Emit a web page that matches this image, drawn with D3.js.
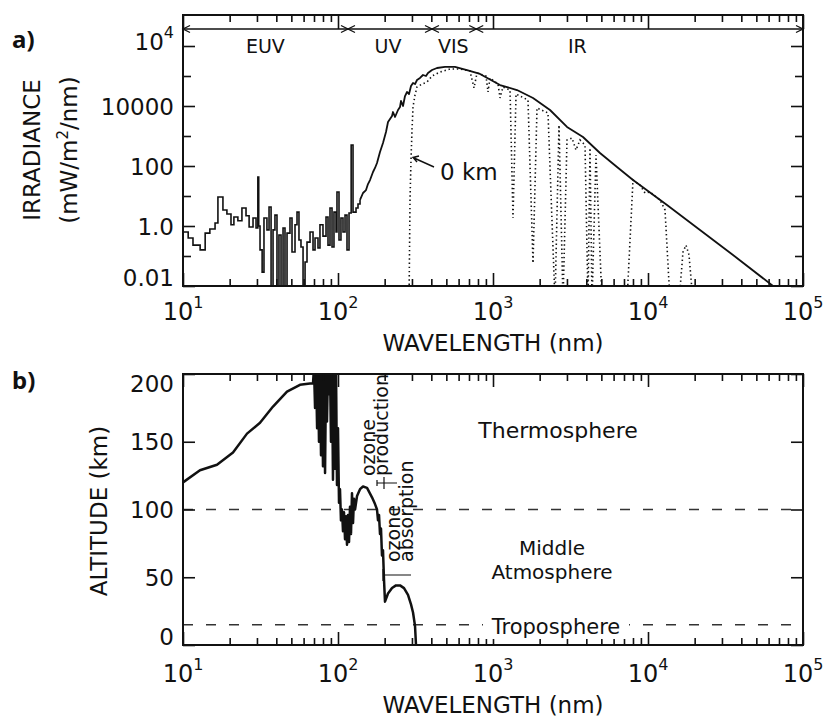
<!DOCTYPE html>
<html>
<head>
<meta charset="utf-8">
<script src="https://cdn.jsdelivr.net/npm/d3@7"></script>
<style>
  body { margin: 0; background: #fff; }
  svg text { font-family: "DejaVu Sans", sans-serif; fill: #111; }
</style>
</head>
<body>
<svg id="chart" width="826" height="720"></svg>
<script>
// axis ticks
const wavelengthTicks = [10, 100, 1000, 10000, 100000];
const wavelengthExponents = ['1', '2', '3', '4', '5'];
const irradianceTicks = [0.01, 1, 100, 1e4, 1e6];
const irradianceLabels = ['0.01', '1.0', '100', '10000', '10^4'];
const irradianceMinorTicks = [0.1, 10, 1000, 1e5];
const altitudeTicks = [0, 50, 100, 150, 200];

// spectral bands along the top of panel a
const bandNames = ['EUV', 'UV', 'VIS', 'IR'];
const bandEdges = [10, 116, 404, 780, 100000];
const bandLabelAt = [34, 210, 555, 3500];

// layer boundaries in panel b (km)
const layerBoundaries = [100, 15];

// [wavelength nm, irradiance] -- EUV histogram, drawn as steps
const euvSpectrum = [
  [10.0, 0.63], [10.8, 0.40], [11.6, 0.23], [12.9, 0.16], [13.9, 0.58], [14.9, 0.79],
  [16.1, 1.26], [16.8, 9.3], [18.1, 3.4], [19.2, 2.5], [20.4, 1.1], [21.3, 2.0],
  [22.6, 1.5], [24.0, 4.0], [25.5, 2.2], [26.7, 0.93], [28.3, 1.85], [29.6, 0.86],
  [30.4, 43], [30.8, 1.0], [31.4, 0.16], [32.4, 0.029], [33.3, 1.85], [34.8, 0.74],
  [35.9, 4.3], [37.0, 0.003], [38.1, 0.74], [39.2, 2.3], [40.4, 0.003], [41.6, 0.50],
  [42.9, 0.003], [44.2, 0.86], [45.5, 0.003], [46.9, 0.58], [49.0, 1.85], [50.5, 0.136],
  [52.8, 1.1], [54.4, 2.9], [56.0, 0.34], [57.7, 0.20], [59.5, 0.003], [61.3, 0.063],
  [63.1, 0.29], [66.0, 0.63], [69.0, 0.16], [71.1, 0.40], [74.3, 0.185], [76.5, 1.1],
  [80.0, 0.46], [83.7, 2.0], [86.2, 0.23], [88.8, 4.0], [91.5, 0.20], [94.2, 2.9],
  [97.1, 0.63], [98.5, 13.6], [101.5, 0.34], [104.5, 1.85], [107.7, 0.63], [111.0, 2.3],
  [114.3, 0.16], [117.8, 2.7], [121.6, 500], [125.0, 2.9], [130.7, 4.0], [134.6, 5.4],
  [138.7, 7.4]
];

// top of atmosphere spectrum
const solarSpectrum = [
  [138.7, 7.4], [145, 12.6], [151.6, 15.8], [156.1, 25], [160.9, 34], [168.2, 63],
  [173.3, 86], [178.5, 126], [186.6, 293], [195.1, 584], [204, 1360], [210.2, 2930],
  [216.6, 3690], [223.1, 4640], [226.4, 6310], [233.3, 4300], [243.9, 7360], [251.2, 9270],
  [255, 14700], [262.7, 10000], [270.6, 21500], [278.8, 29300], [287.2, 25000], [295.8, 46400],
  [304.8, 58500], [314, 54000], [323.4, 73600], [338.1, 86000], [353.5, 108000], [369.6, 100000],
  [380.7, 126000], [404.2, 158000], [435.3, 185000], [490, 200000], [568.6, 200000], [679.6, 158000],
  [824.4, 117000], [1110, 50000], [1428, 34000], [1812, 18500], [2332, 7360], [3002, 2000],
  [3807, 926], [4900, 271], [6310, 92.6], [8003, 34], [13260, 5.0], [21650, 0.74],
  [35350, 0.108], [64060, 0.01], [100000, 0.0017]
];

// spectrum reaching the ground (0 km)
const surfaceSpectrum = [
  [287.2, 0.003], [291.5, 7.4], [295.8, 158], [300.2, 1580], [304.8, 9270], [314, 23300],
  [323.4, 43000], [348.4, 54000], [375.2, 63000], [404.2, 100000], [455.1, 136000], [528, 171000],
  [612.5, 171000], [710.6, 147000], [754.2, 40000], [788.6, 126000], [901.2, 100000], [928.4, 29300],
  [956.4, 86000], [1077, 54000], [1110, 18500], [1160, 43000], [1288, 34000], [1346, 1.85],
  [1408, 25000], [1682, 15800], [1812, 0.058], [1923, 8580], [2264, 5850], [2512, 0.003],
  [2666, 2330], [2829, 0.003], [3002, 736], [3234, 858], [3432, 341], [3641, 736],
  [3923, 500], [4102, 0.003], [4225, 398], [4353, 0.003], [4618, 233], [5050, 0.003],
  [7318, 0.003], [8003, 34], [8881, 23], [9564, 12.6], [10300, 13.6], [11950, 7.4],
  [12880, 3.4], [13870, 0.003], [15850, 0.003], [16820, 0.136], [17590, 0.23], [18390, 0.108],
  [19510, 0.003]
];

// [wavelength nm, altitude km] where optical depth reaches 1
const altitudeProfile = [
  [10, 120], [12.87, 129], [16.57, 133], [21.02, 142], [25.88, 156], [31.4, 164],
  [38.08, 176], [46.88, 187], [56.85, 192], [65.97, 193], [68.98, 193], [70, 205],
  [71.1, 175], [72.1, 205], [73.3, 160], [74.3, 205], [75.4, 150], [76.5, 205],
  [77.7, 140], [78.8, 200], [80, 132], [81.2, 205], [82.5, 127], [83.7, 200],
  [84.9, 165], [86.2, 205], [87.5, 185], [88.8, 205], [90.1, 150], [91.5, 205],
  [92.8, 122], [94.2, 205], [95.6, 130], [97.1, 205], [98.5, 118], [100, 160],
  [101.5, 105], [103, 115], [104.5, 92], [106.1, 100], [107.7, 84], [109.3, 98],
  [111, 78], [112.6, 95], [114.3, 74], [116, 96], [117.8, 76], [119.5, 102],
  [121.3, 82], [123.1, 112], [125, 90], [126.8, 108], [128.8, 100], [132.7, 110],
  [138.7, 115], [145, 117], [153.9, 116], [165.7, 109], [173.3, 104], [178.5, 100],
  [181.2, 92], [183.9, 96], [186.6, 82], [189.4, 86], [192.2, 66], [195.1, 70],
  [198.1, 48], [201, 32], [210.2, 38], [223.1, 42], [236.7, 44], [251.2, 44],
  [266.6, 42], [282.9, 37], [295.8, 30], [304.8, 24], [314, 14], [318.6, 0]
];

const svg = d3.select('#chart');
const frame = { left: 183, right: 803 };
const panelA = { top: 15, bottom: 286 };
const panelB = { top: 374, bottom: 645 };

const xScale = d3.scaleLog().domain([10, 1e5]).range([frame.left, frame.right]);
const yIrr = d3.scaleLog().domain([0.01, 1.08e7]).range([panelA.bottom, panelA.top]);
const yAlt = d3.scaleLinear().domain([0, 200]).range([panelB.bottom, panelB.top]);

const tickStyle = sel => {
  sel.select('.domain').remove();
  sel.attr('color', '#111').selectAll('line').attr('stroke-width', 1.6);
};

function clip(id, top, bottom) {
  svg.append('clipPath').attr('id', id)
    .append('rect')
      .attr('x', frame.left).attr('y', top)
      .attr('width', frame.right - frame.left).attr('height', bottom - top);
}

function wavelengthAxes(g, top, bottom, topMajor, labelGap) {
  const minor = xScale.ticks().filter(v => !wavelengthTicks.includes(v));
  g.append('g').attr('transform', `translate(0,${bottom})`)
    .call(d3.axisBottom(xScale).tickValues(minor).tickSize(-7).tickFormat(''))
    .call(tickStyle);
  g.append('g').attr('transform', `translate(0,${bottom})`)
    .call(d3.axisBottom(xScale).tickValues(wavelengthTicks).tickSize(-13).tickFormat(''))
    .call(tickStyle);
  g.append('g').attr('transform', `translate(0,${top})`)
    .call(d3.axisTop(xScale).tickValues(minor).tickSize(-7).tickFormat(''))
    .call(tickStyle);
  g.append('g').attr('transform', `translate(0,${top})`)
    .call(d3.axisTop(xScale).tickValues(wavelengthTicks).tickSize(-topMajor).tickFormat(''))
    .call(tickStyle);

  wavelengthTicks.forEach((v, i) => {
    const t = g.append('text')
      .attr('x', xScale(v)).attr('y', bottom + labelGap)
      .attr('text-anchor', 'middle').attr('font-size', 24);
    t.append('tspan').text('10');
    t.append('tspan').attr('dy', -12).attr('font-size', 16).text(wavelengthExponents[i]);
  });

  g.append('text')
    .attr('x', (frame.left + frame.right) / 2).attr('y', bottom + labelGap + 31)
    .attr('text-anchor', 'middle').attr('font-size', 23)
    .text('WAVELENGTH (nm)');
}

function valueAxes(g, y, ticks, minor) {
  [[d3.axisLeft, frame.left], [d3.axisRight, frame.right]].forEach(([axis, x]) => {
    g.append('g').attr('transform', `translate(${x},0)`)
      .call(axis(y).tickValues(ticks).tickSize(-12).tickFormat(''))
      .call(tickStyle);
    if (minor.length) {
      g.append('g').attr('transform', `translate(${x},0)`)
        .call(axis(y).tickValues(minor).tickSize(-8).tickFormat(''))
        .call(tickStyle);
    }
  });
}

function tickLabel(g, v, label, y, top, bottom) {
  const power = label.split('^');
  const base = power.length > 1 ? y(v) + 4 : Math.max(Math.min(y(v) + 8.5, bottom), top + 18);
  const t = g.append('text')
    .attr('x', frame.left - 9).attr('y', base)
    .attr('text-anchor', 'end').attr('font-size', 23);
  t.append('tspan').text(power[0]);
  if (power.length > 1) {
    t.append('tspan').attr('dy', -12).attr('font-size', 16).text(power[1]);
  }
}

function frameRect(g, top, bottom) {
  g.append('rect')
    .attr('x', frame.left).attr('y', top)
    .attr('width', frame.right - frame.left).attr('height', bottom - top)
    .attr('fill', 'none').attr('stroke', '#111').attr('stroke-width', 2);
}

// ---------- panel a: irradiance ----------
clip('clipA', panelA.top, panelA.bottom);
const gA = svg.append('g');

const lineA = d3.line().x(d => xScale(d[0])).y(d => yIrr(d[1]));

gA.append('path')
  .datum(euvSpectrum)
  .attr('clip-path', 'url(#clipA)')
  .attr('d', lineA.curve(d3.curveStepAfter))
  .attr('fill', 'none').attr('stroke', '#111').attr('stroke-width', 1.6);

gA.append('path')
  .datum(solarSpectrum)
  .attr('clip-path', 'url(#clipA)')
  .attr('d', lineA.curve(d3.curveLinear))
  .attr('fill', 'none').attr('stroke', '#111').attr('stroke-width', 1.8)
  .attr('stroke-linejoin', 'round');

gA.append('path')
  .datum(surfaceSpectrum)
  .attr('clip-path', 'url(#clipA)')
  .attr('d', lineA.curve(d3.curveLinear))
  .attr('fill', 'none').attr('stroke', '#111').attr('stroke-width', 1.6)
  .attr('stroke-dasharray', '1.4,2.8');

frameRect(gA, panelA.top, panelA.bottom);
wavelengthAxes(gA, panelA.top, panelA.bottom, 14, 34);
valueAxes(gA, yIrr, irradianceTicks, irradianceMinorTicks);
irradianceTicks.forEach((v, i) => tickLabel(gA, v, irradianceLabels[i], yIrr, panelA.top, panelA.bottom));

// band arrows along the top
const bandY = 29;
gA.append('line')
  .attr('x1', frame.left).attr('x2', frame.right)
  .attr('y1', bandY).attr('y2', bandY)
  .attr('stroke', '#111').attr('stroke-width', 1.4);
bandEdges.forEach((edge, i) => {
  const x = xScale(edge);
  const heads = [];
  if (i > 0) heads.push(-1);
  if (i < bandEdges.length - 1) heads.push(1);
  heads.forEach(dir => {
    gA.append('path')
      .attr('d', `M${x + dir * 7},${bandY - 3.5}L${x},${bandY}L${x + dir * 7},${bandY + 3.5}`)
      .attr('fill', 'none').attr('stroke', '#111').attr('stroke-width', 1.3);
  });
});
bandNames.forEach((name, i) => {
  gA.append('text')
    .attr('x', xScale(bandLabelAt[i])).attr('y', 53)
    .attr('text-anchor', 'middle').attr('font-size', 19)
    .text(name);
});

// 0 km callout
gA.append('path')
  .attr('d', 'M434,167L414,158M419,156L413,157.5L417,162')
  .attr('fill', 'none').attr('stroke', '#111').attr('stroke-width', 1.4);
gA.append('text')
  .attr('x', 440).attr('y', 180).attr('font-size', 23)
  .text('0 km');

gA.append('text')
  .attr('transform', 'translate(40,150) rotate(-90)')
  .attr('text-anchor', 'middle').attr('font-size', 23)
  .text('IRRADIANCE');
const units = gA.append('text')
  .attr('transform', 'translate(77,150) rotate(-90)')
  .attr('text-anchor', 'middle').attr('font-size', 23);
units.append('tspan').text('(mW/m');
units.append('tspan').attr('dy', -9).attr('font-size', 15).text('2');
units.append('tspan').attr('dy', 9).text('/nm)');

svg.append('text')
  .attr('x', 12).attr('y', 48)
  .attr('font-size', 24).attr('font-weight', 'bold')
  .style('font-family', '"Noto Sans", sans-serif')
  .text('a)');

// ---------- panel b: altitude ----------
clip('clipB', panelB.top, panelB.bottom);
const gB = svg.append('g');

layerBoundaries.forEach(km => {
  gB.append('line')
    .attr('x1', frame.left).attr('x2', frame.right)
    .attr('y1', yAlt(km)).attr('y2', yAlt(km))
    .attr('stroke', '#333').attr('stroke-width', 1.5)
    .attr('stroke-dasharray', '10,13');
});

gB.append('path')
  .datum(altitudeProfile)
  .attr('clip-path', 'url(#clipB)')
  .attr('d', d3.line().x(d => xScale(d[0])).y(d => yAlt(d[1])))
  .attr('fill', 'none').attr('stroke', '#111').attr('stroke-width', 2.5)
  .attr('stroke-linejoin', 'round');

frameRect(gB, panelB.top, panelB.bottom);
wavelengthAxes(gB, panelB.top, panelB.bottom, 13, 37);
valueAxes(gB, yAlt, altitudeTicks, []);
altitudeTicks.forEach(v => tickLabel(gB, v, String(v), yAlt, panelB.top, panelB.bottom));

// layer names
gB.append('text').attr('x', 558).attr('y', 438)
  .attr('text-anchor', 'middle').attr('font-size', 22).text('Thermosphere');
gB.append('text').attr('x', 552).attr('y', 555)
  .attr('text-anchor', 'middle').attr('font-size', 20).text('Middle');
gB.append('text').attr('x', 552).attr('y', 579)
  .attr('text-anchor', 'middle').attr('font-size', 20).text('Atmosphere');
gB.append('rect').attr('x', 483).attr('y', 617).attr('width', 146).attr('height', 22)
  .attr('fill', '#fff');
gB.append('text').attr('x', 556).attr('y', 634)
  .attr('text-anchor', 'middle').attr('font-size', 21).text('Troposphere');

// ozone labels and markers
const ozone = [
  { lines: ['ozone', 'production'], start: 476, base: [375, 388] },
  { lines: ['ozone', 'absorption'], start: 562, base: [400, 413] }
];
ozone.forEach(o => {
  o.lines.forEach((txt, i) => {
    gB.append('text')
      .attr('transform', `translate(${o.base[i]},${o.start}) rotate(-90)`)
      .attr('font-size', 19)
      .text(txt);
  });
});
gB.append('path')
  .attr('d', 'M377,483H397M377,480V486M384,477V489')
  .attr('fill', 'none').attr('stroke', '#111').attr('stroke-width', 1.2);
gB.append('path')
  .attr('d', 'M383,575H411M383,569V581')
  .attr('fill', 'none').attr('stroke', '#111').attr('stroke-width', 1.2);

gB.append('text')
  .attr('transform', 'translate(107,511) rotate(-90)')
  .attr('text-anchor', 'middle').attr('font-size', 23)
  .text('ALTITUDE (km)');

svg.append('text')
  .attr('x', 12).attr('y', 389)
  .attr('font-size', 24).attr('font-weight', 'bold')
  .style('font-family', '"Noto Sans", sans-serif')
  .text('b)');
</script>
</body>
</html>
